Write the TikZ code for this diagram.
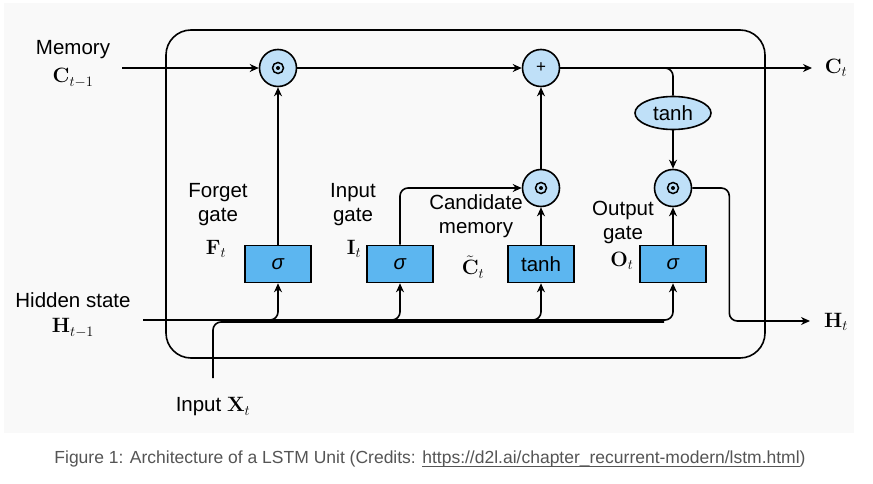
\documentclass[tikz,border=0pt]{standalone}
\usepackage{amsmath}
\usepackage[no-math]{fontspec}
\setmainfont{Liberation Sans}
\usetikzlibrary{arrows.meta,shapes.geometric}
\definecolor{pagegray}{HTML}{F9F9F9}
\definecolor{opblue}{HTML}{BFE0F8}
\definecolor{gateblue}{HTML}{5CB6F0}
\definecolor{captiongray}{HTML}{555555}

\begin{document}
\begin{tikzpicture}[x=1pt,y=-1pt,
line width=1.6pt,
font=\fontsize{20.5}{24}\selectfont,
op/.style = {circle,
	draw,
	fill=opblue,
	minimum size=37pt,
inner sep=0pt},
mul/.style = {op,
	path picture={
		\draw[line width=1.5pt] (path picture bounding box.center) circle (5.5pt);
\fill[black] (path picture bounding box.center) circle (2pt);}},
gatebox/.style = {rectangle,
	draw,
	fill=gateblue,
	minimum width=66pt,
minimum height=37pt},
txt/.style = {align=center,
inner sep=0pt},
flow/.style = {-{Stealth[length=9pt,width=8pt]},
rounded corners=8pt}]

\fill[white] (0,0) rectangle (873,484);
\useasboundingbox (0,0) rectangle (873,484);
\fill[pagegray] (4,3) rectangle (854,433);

% the cell
\draw[rounded corners=25pt] (166,30) rectangle (765,358);

% operations
\node (fmul) at (278,68) [mul] {};
\node (add) at (541,68) [op, font=\fontsize{17}{17}\selectfont] {+};
\node (imul) at (541,188) [mul] {};
\node (omul) at (673,188) [mul] {};
\node (ctanh) at (673,113) [ellipse, draw, fill=opblue,
	minimum width=76pt, minimum height=33pt, inner sep=0pt] {tanh};

% gates
\node (fgate) at (278,264) [gatebox] {\textit{σ}};
\node (igate) at (400,264) [gatebox] {\textit{σ}};
\node (cgate) at (541,264) [gatebox] {tanh};
\node (ogate) at (673,264) [gatebox] {\textit{σ}};

% labels
\node (memlab) at (73,50) [txt] {Memory};
\node (cprev) at (73,78) [txt] {$\mathbf{C}_{t-1}$};
\node (hidlab) at (73,300) [txt] {Hidden state};
\node (hprev) at (73,328) [txt] {$\mathbf{H}_{t-1}$};
\node (xlab) at (213,407) [txt] {Input $\mathbf{X}_t$};
\node (cnext) at (836,68) [txt] {$\mathbf{C}_t$};
\node (hnext) at (836,322) [txt] {$\mathbf{H}_t$};
\node (flab) at (218,205) [txt] {Forget\\gate};
\node (fsym) at (216,249) [txt] {$\mathbf{F}_t$};
\node (ilab) at (353,205) [txt] {Input\\gate};
\node (isym) at (354,249) [txt] {$\mathbf{I}_t$};
\node (clab) at (476,216) [txt] {Candidate\\memory};
\node (csym) at (473,267) [txt] {$\tilde{\mathbf{C}}_t$};
\node (olab) at (623,222) [txt] {Output\\gate};
\node (osym) at (622,261) [txt] {$\mathbf{O}_t$};

% free ends
\coordinate (cin) at (122,68);
\coordinate (cout) at (812,68);
\coordinate (hin) at (143,320);
\coordinate (hout) at (810,321);
\coordinate (xin) at (213,378);
\coordinate (xjoin) at (664,322);

% memory path
\draw[flow] (cin) -- (fmul);
\draw[flow] (fmul) -- (add);
\draw[flow] (add) -- (cout);
\draw[rounded corners=8pt] (add.east) -| (ctanh.north);
\draw[flow] (ctanh) -- (omul);

% gates into operations
\draw[flow] (fgate) -- (fmul);
\draw[flow] (igate.north) |- (imul.west);
\draw[flow] (cgate) -- (imul);
\draw[flow] (imul) -- (add);
\draw[flow] (ogate) -- (omul);
\draw[flow] (omul.east) -- ++(37,0) |- (hout);

% hidden state and input
\foreach \g in {fgate,igate,cgate,ogate}
	\draw[flow] (hin) -| (\g.south);
\draw[rounded corners=8pt] (xin) |- (xjoin);

\node (caption) at (430,459) [text=captiongray, font=\fontsize{17.5}{20}\selectfont]
	{Figure 1: Architecture of a LSTM Unit (Credits: \underline{\smash{https://d2l.ai/chapter\_recurrent-modern/lstm.html}})};
\end{tikzpicture}
\end{document}
